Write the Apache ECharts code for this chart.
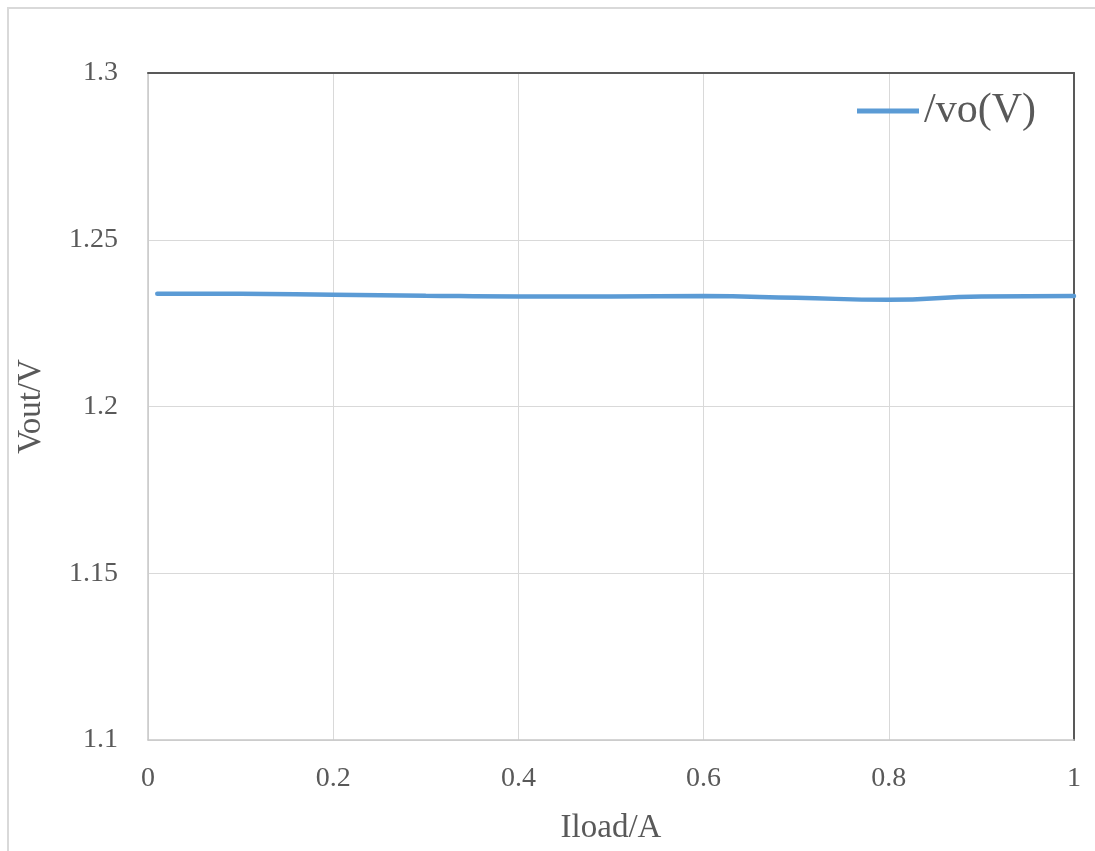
<!DOCTYPE html>
<html>
<head>
<meta charset="utf-8">
<title>Vout vs Iload</title>
<script src="https://cdn.jsdelivr.net/npm/echarts@6/dist/echarts.min.js"></script>
<style>
html,body{margin:0;padding:0;background:#fff;}
#main{width:1095px;height:851px;}
</style>
</head>
<body>
<div id="main"></div>
<script>
// load current (A) and output voltage (V)
var iload = [0.01, 0.1, 0.2, 0.3, 0.4, 0.5, 0.6, 0.7, 0.8, 0.9, 1.0];
var vout = [1.2338, 1.2338, 1.2335, 1.2332, 1.2330, 1.2330, 1.2331, 1.2326, 1.2320, 1.2330, 1.2331];
var seriesName = '/vo(V)';

var font = '"Liberation Serif", "Times New Roman", serif';
var textColor = '#595959';

var points = [];
for (var i = 0; i < iload.length; i++) {
    points.push([iload[i], vout[i]]);
}

var myChart = echarts.init(document.getElementById('main'));
var option = {
    animation: false,
    backgroundColor: '#fff',
    graphic: [{
        type: 'rect',
        shape: {x: 8, y: 8, width: 1200, height: 1000},
        style: {fill: 'none', stroke: '#d9d9d9', lineWidth: 2},
        silent: true
    }],
    grid: {left: 148, right: 21, top: 73, bottom: 111, outerBoundsMode: 'none', containLabel: false},
    legend: {
        left: 852,
        top: 85,
        itemWidth: 62,
        itemHeight: 5,
        itemGap: 10,
        icon: 'rect',
        textStyle: {fontFamily: font, fontSize: 42, color: textColor},
        data: [seriesName]
    },
    xAxis: [{
        type: 'value',
        min: 0,
        max: 1,
        interval: 0.2,
        name: 'Iload/A',
        nameLocation: 'middle',
        nameGap: 72,
        nameTextStyle: {fontFamily: font, fontSize: 33, color: textColor},
        axisLine: {show: true, onZero: false, lineStyle: {color: '#c8c8c8', width: 1.5}},
        axisTick: {show: false},
        axisLabel: {fontFamily: font, fontSize: 28, color: textColor, margin: 25},
        splitLine: {show: true, lineStyle: {color: '#d9d9d9', width: 1}}
    }, {
        type: 'value',
        position: 'top',
        min: 0,
        max: 1,
        axisLine: {show: true, onZero: false, lineStyle: {color: '#595959', width: 2}},
        axisTick: {show: false},
        axisLabel: {show: false},
        splitLine: {show: false}
    }],
    yAxis: [{
        type: 'value',
        min: 1.1,
        max: 1.3,
        interval: 0.05,
        name: 'Vout/V',
        nameLocation: 'middle',
        nameGap: 100,
        nameTextStyle: {fontFamily: font, fontSize: 33, color: textColor},
        axisLine: {show: true, onZero: false, lineStyle: {color: '#c8c8c8', width: 1.5}},
        axisTick: {show: false},
        axisLabel: {fontFamily: font, fontSize: 28, color: textColor, margin: 30},
        splitLine: {show: true, lineStyle: {color: '#d9d9d9', width: 1}}
    }, {
        type: 'value',
        position: 'right',
        min: 1.1,
        max: 1.3,
        axisLine: {show: true, onZero: false, lineStyle: {color: '#595959', width: 2}},
        axisTick: {show: false},
        axisLabel: {show: false},
        splitLine: {show: false}
    }],
    series: [{
        name: seriesName,
        type: 'line',
        smooth: true,
        symbol: 'none',
        data: points,
        itemStyle: {color: '#5b9bd5'},
        lineStyle: {color: '#5b9bd5', width: 4.5, cap: 'round'}
    }]
};
myChart.setOption(option);
</script>
</body>
</html>
